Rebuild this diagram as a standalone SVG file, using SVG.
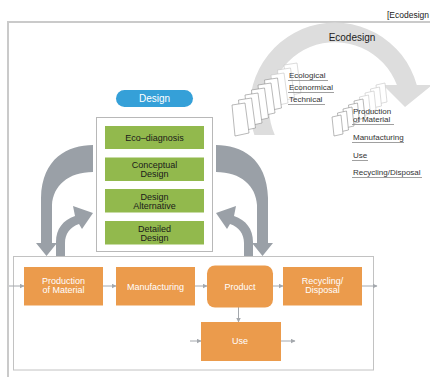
<svg xmlns="http://www.w3.org/2000/svg" width="430" height="377" viewBox="0 0 430 377">
<style>
text{font-family:"Liberation Sans",Arial,sans-serif}
.or{fill:#eb9b4c}
.gr{fill:#92b94d}
.wt{fill:#fff;font-size:9px;text-anchor:middle}
.bt{fill:#1a1a1a;font-size:9px;text-anchor:middle}
.lb{fill:#333;font-size:8px}
.ul{stroke:#888;stroke-width:0.8}
.pg{fill:#fff;stroke:#8a8a8a;stroke-width:0.6}
.pgl{fill:#fff;stroke:#c4c4c4;stroke-width:0.6}
.big{fill:#9aa0a7}
.cn{stroke:#a4a8ad;stroke-width:1;fill:none;marker-end:url(#ah)}
</style>
<defs>
<marker id="ah" markerUnits="userSpaceOnUse" markerWidth="5" markerHeight="5" refX="4.5" refY="2.5" orient="auto">
<path d="M0,0 L5,2.5 L0,5 Z" fill="#a4a8ad"/>
</marker>
<polygon id="p1" points="0,2 13,0 17,30 3,33"/>
<polygon id="p2" points="0,2 9,0 11,19 2,21"/>
</defs>
<rect width="430" height="377" fill="#fff"/>
<!-- outer frame -->
<path d="M8,377 L8,22 L430,22" fill="none" stroke="#cacaca" stroke-width="2"/>
<text x="387" y="18" style="font-size:8.5px;fill:#222">[Ecodesign</text>

<!-- Ecodesign arc -->
<g id="ecodesign-arc">
<path d="M254.4,135 A85,85 0 1 1 416.8,85 L432,85 L405,107 L383,85 L396.9,85 A66,66 0 1 0 274.8,135 Z" fill="#dddddd"/>
<text x="352" y="41" style="font-size:10px;fill:#222;text-anchor:middle">Ecodesign</text>
</g>

<!-- page stack 1 -->
<g id="stack-aspects">
<use href="#p1" x="284" y="63" class="pgl"/>
<use href="#p1" x="277.5" y="68" class="pgl"/>
<use href="#p1" x="271" y="73" class="pgl"/>
<use href="#p1" x="264.5" y="78" class="pg"/>
<use href="#p1" x="258" y="83" class="pg"/>
<use href="#p1" x="251.5" y="88" class="pg"/>
<use href="#p1" x="245" y="93" class="pg"/>
<use href="#p1" x="238.5" y="98" class="pg"/>
<use href="#p1" x="232" y="103" class="pg"/>
<text x="289" y="78" class="lb">Ecological</text>
<line x1="288" y1="80.5" x2="328" y2="80.5" class="ul"/>
<text x="289" y="90" class="lb">Econormical</text>
<line x1="288" y1="92.5" x2="334" y2="92.5" class="ul"/>
<text x="289" y="102" class="lb">Technical</text>
<line x1="288" y1="104.5" x2="325" y2="104.5" class="ul"/>
</g>

<!-- page stack 2 -->
<g id="stack-stages">
<use href="#p2" x="376" y="83" class="pgl"/>
<use href="#p2" x="370.5" y="87" class="pgl"/>
<use href="#p2" x="365" y="91" class="pgl"/>
<use href="#p2" x="359.5" y="95" class="pgl"/>
<use href="#p2" x="354" y="99" class="pg"/>
<use href="#p2" x="348.5" y="103" class="pg"/>
<use href="#p2" x="343" y="107" class="pg"/>
<use href="#p2" x="337.5" y="111" class="pg"/>
<use href="#p2" x="332" y="115" class="pg"/>
<text x="353" y="114" class="lb">Production</text>
<text x="353" y="122" class="lb">of  Material</text>
<line x1="352" y1="124.5" x2="394" y2="124.5" class="ul"/>
<text x="353" y="140" class="lb">Manufacturing</text>
<line x1="352" y1="142.5" x2="404" y2="142.5" class="ul"/>
<text x="353" y="158" class="lb">Use</text>
<line x1="352" y1="160.5" x2="368" y2="160.5" class="ul"/>
<text x="353" y="175" class="lb">Recycling/Disposal</text>
<line x1="352" y1="177.5" x2="422" y2="177.5" class="ul"/>
</g>

<!-- Design label -->
<g id="design-label">
<rect x="116" y="90" width="77" height="17" rx="8.5" fill="#35a0d8"/>
<text x="154.5" y="102" style="font-size:10px;fill:#fff;text-anchor:middle">Design</text>
</g>

<!-- design box -->
<g id="design-box">
<rect x="96.5" y="117.5" width="116" height="134" fill="#fff" stroke="#b8b8b8"/>
</g>
<g id="eco-diagnosis">
<rect x="105" y="126" width="99" height="23" class="gr"/>
<text x="154.5" y="140.5" class="bt">Eco–diagnosis</text>
</g>
<g id="conceptual-design">
<rect x="105" y="157.5" width="99" height="23.5" class="gr"/>
<text x="154.5" y="168" class="bt">Conceptual</text>
<text x="154.5" y="177" class="bt">Design</text>
</g>
<g id="design-alternative">
<rect x="105" y="189" width="99" height="23.5" class="gr"/>
<text x="154.5" y="199.5" class="bt">Design</text>
<text x="154.5" y="208.5" class="bt">Alternative</text>
</g>
<g id="detailed-design">
<rect x="105" y="221" width="99" height="23.5" class="gr"/>
<text x="154.5" y="231.5" class="bt">Detailed</text>
<text x="154.5" y="240.5" class="bt">Design</text>
</g>

<!-- lifecycle frame -->
<g id="lifecycle-frame">
<rect x="13.5" y="256.5" width="360" height="113.5" fill="none" stroke="#c2c2c2"/>
</g>

<!-- big gray arrows -->
<g id="design-arrows">
<path class="big" d="M93,145 C68,145 42,158 41,198 L41,243 L36,243 L46.5,256 L57,243 L52,243 L52,205 C53,186 68,172 93,172 Z"/>
<path class="big" d="M56,256 L56,242 C56,229 63,220 75,216 L73,206 L93,213 L82,229 L79,224 C70,227 65,234 65,243 L65,256 Z"/>
<g transform="translate(309,0) scale(-1,1)">
<path class="big" d="M93,145 C68,145 42,158 41,198 L41,243 L36,243 L46.5,256 L57,243 L52,243 L52,205 C53,186 68,172 93,172 Z"/>
<path class="big" d="M56,256 L56,242 C56,229 63,220 75,216 L73,206 L93,213 L82,229 L79,224 C70,227 65,234 65,243 L65,256 Z"/>
</g>
</g>

<!-- connectors -->
<g id="connectors">
<line x1="9" y1="286" x2="24" y2="286" class="cn"/>
<line x1="103" y1="286" x2="116" y2="286" class="cn"/>
<line x1="195" y1="286" x2="207" y2="286" class="cn"/>
<line x1="273" y1="286" x2="283" y2="286" class="cn"/>
<line x1="362" y1="286" x2="377" y2="286" class="cn"/>
<line x1="238.5" y1="307" x2="238.5" y2="322" class="cn"/>
<line x1="190" y1="341" x2="201" y2="341" class="cn"/>
<line x1="281" y1="341" x2="295" y2="341" class="cn"/>
</g>

<!-- lifecycle nodes -->
<g id="production-of-material">
<rect x="24" y="267" width="79" height="38.5" class="or"/>
<text x="63.5" y="284" class="wt">Production</text>
<text x="63.5" y="293" class="wt">of  Material</text>
</g>
<g id="manufacturing">
<rect x="116" y="267" width="79" height="38.5" class="or"/>
<text x="155.5" y="289.5" class="wt">Manufacturing</text>
</g>
<g id="product">
<rect x="207" y="265.5" width="66" height="42" rx="8" class="or"/>
<text x="240" y="290" class="wt">Product</text>
</g>
<g id="recycling-disposal">
<rect x="283" y="267" width="79" height="38.5" class="or"/>
<text x="322.5" y="284" class="wt">Recycling/</text>
<text x="322.5" y="293" class="wt">Disposal</text>
</g>
<g id="use">
<rect x="201" y="322" width="80" height="39" class="or"/>
<text x="240" y="343.5" class="wt">Use</text>
</g>
</svg>
